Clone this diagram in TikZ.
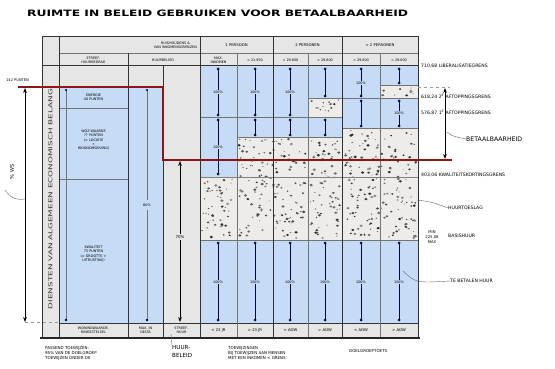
\documentclass[tikz,border=0pt]{standalone}
\usepackage{fontspec}
\setmainfont{DejaVu Sans}
\newfontfamily\handfont[LetterSpace=10]{DejaVu Sans}
\usepackage{graphicx}
\usepackage{tikz}
\usetikzlibrary{arrows.meta, positioning}

\definecolor{cellgray}{RGB}{230,230,230}
\definecolor{cellblue}{RGB}{198,219,246}
\definecolor{speck}{RGB}{238,236,232}
\definecolor{darkred}{RGB}{140,22,22}

\tikzset{
  tiny/.style={font=\fontsize{3.4}{4.1}\selectfont, align=center, inner sep=0pt},
  side/.style={font=\fontsize{4.6}{5.4}\selectfont, anchor=west, inner sep=0pt},
  grid line/.style={black!80, line width=1pt},
  thin line/.style={black!55, line width=0.5pt},
  rent bar/.style={blue!25!black, line width=0.6pt},
  leader/.style={black!60, line width=0.4pt},
}

% speckled block (huurtoeslag)
\newcommand{\speckle}[4]{%
  \fill[speck] (#1,#2) rectangle (#3,#4);
  \pgfmathsetmacro{\nspk}{int((#3-#1)*(#4-#2)/45)}
  \foreach \k in {1,...,\nspk}{
    \pgfmathsetmacro{\sx}{#1+2+rnd*(#3-#1-4)}
    \pgfmathsetmacro{\sy}{#2+2+rnd*(#4-#2-4)}
    \pgfmathsetmacro{\sr}{0.45+rnd*0.9}
    \pgfmathsetmacro{\sg}{45+rnd*40}
    \fill[black!\sg] (\sx,\sy) ellipse ({\sr*1.3pt} and {\sr pt});
  }
}

\begin{document}
\begin{tikzpicture}[x=1pt, y=-1pt]
    \pgfmathsetseed{11}
    \useasboundingbox[fill=white] (0,0) rectangle (555,369);

    % Title
    \node[anchor=west, inner sep=0pt] (title) at (27,13)
        {\resizebox{381pt}{6.5pt}{\bfseries RUIMTE IN BELEID GEBRUIKEN VOOR BETAALBAARHEID}};

    % Table background
    \fill[cellgray] (42,37) rectangle (418,337);
    \fill[cellblue] (59,87) rectangle (163,323);

    % Blue parts (te betalen huur)
    \fill[cellblue] (200,66) rectangle (237,177);
    \fill[cellblue] (237,66) rectangle (308,137);
    \fill[cellblue] (308,66) rectangle (342,98);
    \fill[cellblue] (308,117) rectangle (342,137);
    \fill[cellblue] (342,66) rectangle (380,128);
    \fill[cellblue] (380,66) rectangle (418,85);
    \fill[cellblue] (380,98) rectangle (418,128);
    \fill[cellblue] (200,240) rectangle (418,323);

    % Speckled parts (huurtoeslag)
    \speckle{200}{177}{237}{240}
    \speckle{237}{137}{308}{240}
    \speckle{308}{98}{342}{117}
    \speckle{308}{137}{342}{240}
    \speckle{342}{128}{418}{240}
    \speckle{380}{85}{418}{98}

    % Rent bars
    \foreach \x/\ya/\yb in {218/69/115, 218/120/174, 255/69/115, 255/120/135, 290/69/115, 290/120/135,
                            325/69/96, 325/120/135, 361/69/96, 361/101/126, 399/69/83, 399/101/126,
                            218/243/320, 255/243/320, 290/243/320, 325/243/320, 361/243/320, 399/243/320}{
        \draw[rent bar] (\x,\ya) -- (\x,\yb);
        \fill[blue!25!black] (\x,\ya) circle (1.5pt) (\x,\yb) circle (1.5pt);
    }
    \foreach \x/\y in {218/92, 218/147, 255/92, 290/92, 361/83, 399/113,
                       218/282, 255/282, 290/282, 325/282, 361/282, 399/282}{
        \node[tiny, fill=cellblue, inner sep=0.6pt] at (\x,\y) {100\%};
    }

    % Grid
    \draw[thin line] (59,53) -- (418,53);
    \draw[grid line] (42,66) -- (418,66);
    \draw[grid line] (59,323) -- (418,323);
    \draw[thin line] (59,108) -- (128,108);
    \draw[thin line] (59,179) -- (128,179);
    \draw[thin line] (200,117) -- (342,117);
    \draw[thin line] (308,98) -- (418,98);
    \draw[thin line] (380,85) -- (418,85);
    \draw[thin line] (237,137) -- (342,137);
    \draw[thin line] (342,128) -- (418,128);
    \draw[grid line, black!50] (200,177) -- (418,177);
    \draw[thin line] (200,240) -- (418,240);
    \draw[grid line] (59,37) -- (59,337);
    \draw[grid line] (128,53) -- (128,337);
    \draw[grid line] (163,66) -- (163,337);
    \draw[grid line] (200,37) -- (200,337);
    \draw[grid line] (273,37) -- (273,337);
    \draw[grid line] (342,37) -- (342,337);
    \foreach \x in {237,308,380}{
        \draw[thin line] (\x,53) -- (\x,337);
    }
    \draw[grid line] (42,37) rectangle (418,337);
    \draw[black!85, line width=1.8pt] (40,338) -- (420,338);

    % Header texts
    \node[tiny, anchor=east] (hhd) at (197,45) {HUISHOUDENS \&\\VAN INKOMENSGRENZEN};
    \node[tiny] (streef) at (93.5,60) {STREEF-\\HUURBEDRAG};
    \node[tiny] (hbeleid) at (163,60) {HUURBELEID};
    \node[tiny, font=\fontsize{3.8}{4.5}\selectfont] (p1) at (236.5,45) {1 PERSOON};
    \node[tiny, font=\fontsize{3.8}{4.5}\selectfont] (p2) at (307.5,45) {2 PERSONEN};
    \node[tiny, font=\fontsize{3.8}{4.5}\selectfont] (p3) at (380,45) {> 2 PERSONEN};
    \node[tiny] (ink1) at (218.5,60) {MAX.\\INKOMEN};
    \node[tiny] (ink2) at (255,60) {< 21.950};
    \node[tiny] (ink3) at (290.5,60) {< 29.800};
    \node[tiny] (ink4) at (325,60) {< 29.800};
    \node[tiny] (ink5) at (361,60) {< 29.800};
    \node[tiny] (ink6) at (399,60) {< 29.800};

    % Left column texts
    \node[tiny, rotate=90, text=black!80] (daeb) at (50.5,199)
        {\resizebox{220pt}{4pt}{DIENSTEN VAN ALGEMEEN ECONOMISCH BELANG}};
    \node[tiny] (energie) at (93.5,97) {ENERGIE\\40 PUNTEN};
    \node[tiny] (woz) at (93.5,140) {WOZ WAARDE\\?? PUNTEN\\(= LOCATIE\\+\\WOONOMGEVING)};
    \node[tiny] (kwal) at (93.5,254) {KWALITEIT\\75 PUNTEN\\(= GROOTTE +\\UITRUSTING)};
    \node[tiny] (pct) at (147,205) {80\%};
    \draw[thin line] (66,90) -- (66,320);
    \draw[thin line] (147,90) -- (147,200) (147,210) -- (147,320);
    \fill[blue!25!black] (66,320) circle (1.3pt) (147,320) circle (1.3pt)
                         (66,90) circle (1.1pt) (147,90) circle (1.1pt);

    % Footer texts
    \node[tiny] (wws) at (93.5,330) {WONINGWAARDE-\\RINGSSTELSEL};
    \node[tiny] (delta) at (145.5,330) {MAX. IN\\DELTA};
    \node[tiny] (shuur) at (181.5,330) {STREEF-\\HUUR};
    \foreach \x/\t [count=\i] in {218.5/< 23 JR, 255/> 23 JR, 290.5/< AOW, 325/> AOW, 361/< AOW, 399/> AOW}{
        \node[tiny, font=\fontsize{3.8}{4.5}\selectfont] (ft\i) at (\x,330) {\t};
    }

    % Affordability line
    \draw[darkred, line width=1.8pt] (18,87) -- (163,87) -- (163,160) -- (452,160);

    % Left dimension
    \coordinate (wsTop) at (25,88);
    \coordinate (wsBot) at (25,322);
    \draw[black!40, dashed, line width=0.4pt] (wsBot) -- (59,322);
    \draw[{Stealth[length=5pt]}-{Stealth[length=5pt]}, line width=0.9pt] (wsTop) -- (wsBot);
    \node[tiny, anchor=west, font=\fontsize{3.6}{4}\selectfont] (punten) at (6,80) {142 PUNTEN};
    \node[tiny, rotate=90, font=\fontsize{5}{6}\selectfont] (pws) at (12,172) {\% WS};
    \draw[leader] (5,190) .. controls (12,200) and (19,200) .. (25,199);

    % Huurbeleid dimension
    \coordinate (hbTop) at (180,161);
    \coordinate (hbBot) at (180,322);
    \draw[{Stealth[length=5pt]}-{Stealth[length=5pt]}, line width=0.9pt] (hbTop) -- (hbBot);
    \node[tiny, fill=cellgray, inner sep=1pt, font=\fontsize{4}{5}\selectfont] (pct70) at (180,237) {70\%};
    \node[inner sep=0pt, align=left, anchor=north west, font=\fontsize{5.6}{8}\selectfont] (huurbeleid) at (172,345) {HUUR-\\BELEID};
    \draw[leader] (171,334) -- (huurbeleid.north west);

    % Betaalbaarheid dimension
    \coordinate (btTop) at (445,88);
    \coordinate (btBot) at (445,159);
    \draw[black!40, dashed, line width=0.4pt] (418,87) -- (450,87);
    \draw[{Stealth[length=5pt]}-{Stealth[length=5pt]}, line width=0.9pt] (btTop) -- (btBot);
    \node[side, font=\fontsize{6.2}{7}\selectfont] (betaal) at (466,139) {BETAALBAARHEID};
    \draw[leader] (447,132) .. controls (452,136) .. (betaal.west);

    % Right labels
    \node[side] (liber) at (421,66) {710,68 LIBERALISATIEGRENS};
    \node[side] (aft2) at (421,97) {618,24 2\textsuperscript{E} AFTOPPINGSGRENS};
    \node[side] (aft1) at (421,113) {576,87 1\textsuperscript{E} AFTOPPINGSGRENS};
    \node[side] (kwk) at (421,175) {403,06 KWALITEITSKORTINGSGRENS};
    \node[side] (toeslag) at (448,208) {HUURTOESLAG};
    \node[tiny, font=\fontsize{3.8}{5.2}\selectfont] (bsh) at (432,237) {MIN\\225,08\\MAX};
    \node[side] (basis) at (448,236) {BASISHUUR};
    \node[side] (tebet) at (450,281) {TE BETALEN HUUR};
    \draw[leader] (417,200) .. controls (432,202) .. (toeslag.west);
    \draw[leader] (403,271) .. controls (416,283) .. (tebet.west);

    % Notes below
    \node[tiny, anchor=north west, align=left, font=\fontsize{4}{5.4}\selectfont] (passend) at (45,346)
        {PASSEND TOEWIJZEN:\\95\% VAN DE DOELGROEP\\TOEWIJZEN ONDER DE};
    \node[tiny, anchor=north west, align=left, font=\fontsize{4}{5.4}\selectfont] (toewijz) at (228,346)
        {TOEWIJZINGEN\\BIJ TOEWIJZEN AAN MENSEN\\MET EEN INKOMEN < GRENS};
    \node[tiny, anchor=north west, align=left, font=\fontsize{4}{5.4}\selectfont] (toets) at (349,349)
        {DOELGROEPTOETS};
\end{tikzpicture}
\end{document}
